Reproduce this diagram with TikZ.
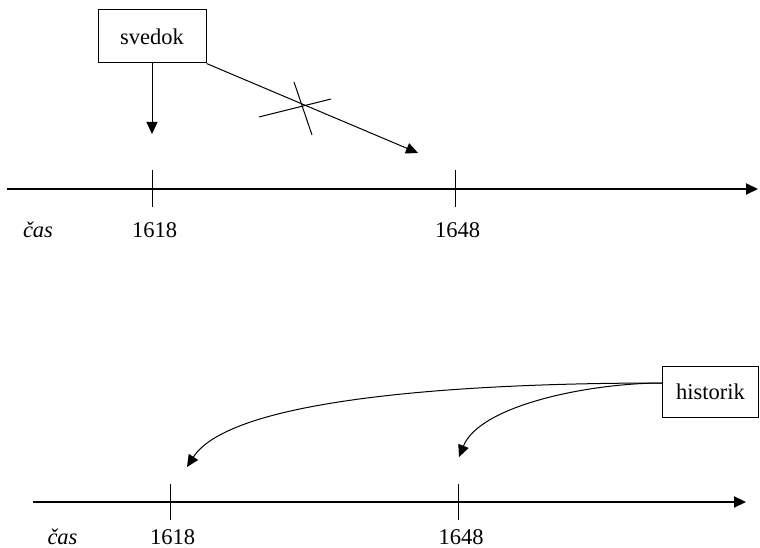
\documentclass[tikz,border=0pt]{standalone}
\usepackage{fontspec}
\setmainfont{Liberation Serif}
\usetikzlibrary{arrows.meta}
\begin{document}
\begin{tikzpicture}[x=1pt,y=-1pt,
  txt/.style={font=\fontsize{22.5}{26}\selectfont, inner sep=0pt, anchor=base},
  boxnode/.style={draw, line width=1pt, font=\fontsize{22.5}{26}\selectfont, inner sep=0pt},
  axis/.style={line width=2pt, -{Triangle[length=12pt,width=11pt]}},
  tick/.style={line width=1pt},
  conn/.style={line width=1pt, -{Triangle[length=12pt,width=11pt]}},
  thin/.style={line width=1pt}]
\useasboundingbox (0,0) rectangle (760,548);
% top part
\node[boxnode, minimum width=108pt, minimum height=53pt] (svedok) at (152,36.5) {svedok};
\coordinate (a1s) at (7,189);
\coordinate (a1e) at (758,189);
\draw[axis] (a1s) -- (a1e);
\coordinate (t1a) at (152,170); \coordinate (t1b) at (152,207);
\coordinate (t2a) at (455,170); \coordinate (t2b) at (455,207);
\draw[tick] (t1a) -- (t1b);
\draw[tick] (t2a) -- (t2b);
\coordinate (v1) at (152,134);
\draw[conn] (svedok.south) -- (v1);
\coordinate (d1) at (418,153);
\draw[conn] (svedok.south east) -- (d1);
\coordinate (x1a) at (259,117); \coordinate (x1b) at (331,99);
\coordinate (x2a) at (294,82); \coordinate (x2b) at (312,135);
\draw[thin] (x1a) -- (x1b);
\draw[thin] (x2a) -- (x2b);
\node[txt, font=\fontsize{22.5}{26}\selectfont\itshape] (cas1) at (38,237) {čas};
\node[txt] (y1618a) at (154.5,237) {1618};
\node[txt] (y1648a) at (457.5,237) {1648};
% bottom part
\node[boxnode, minimum width=96pt, minimum height=51pt] (historik) at (710.5,391.5) {historik};
\coordinate (a2s) at (33,502);
\coordinate (a2e) at (746,502);
\draw[axis] (a2s) -- (a2e);
\coordinate (t3a) at (170,484); \coordinate (t3b) at (170,520);
\coordinate (t4a) at (458.5,484); \coordinate (t4b) at (458.5,520);
\draw[tick] (t3a) -- (t3b);
\draw[tick] (t4a) -- (t4b);
\coordinate (h0) at (662.5,383);
\coordinate (c1) at (187,467);
\coordinate (c2) at (459,457);
\draw[conn] (h0) .. controls (450,383) and (230,400) .. (c1);
\draw[conn] (h0) .. controls (590,383) and (480,405) .. (c2);
\node[txt, font=\fontsize{22.5}{26}\selectfont\itshape] (cas2) at (62.5,544) {čas};
\node[txt] (y1618b) at (172.5,544) {1618};
\node[txt] (y1648b) at (461,544) {1648};
\end{tikzpicture}
\end{document}
